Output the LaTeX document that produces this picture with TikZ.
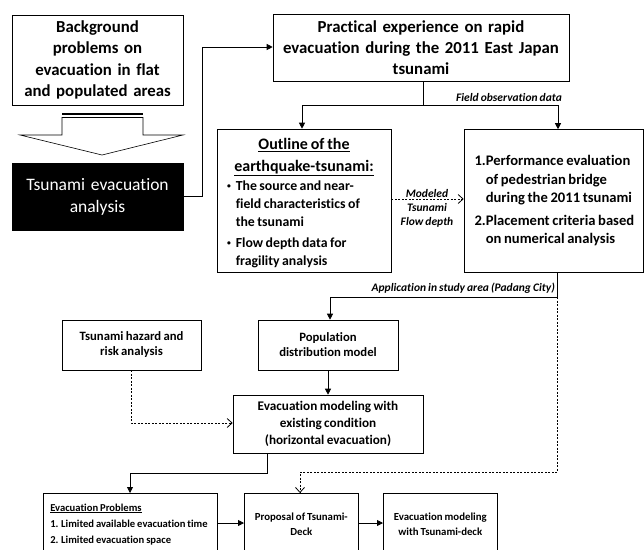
\documentclass[tikz,border=0pt]{standalone}
\usepackage{fontspec}
\setmainfont[Ligatures={NoCommon}, WordSpace=0.8]{Carlito}
\usetikzlibrary{arrows.meta}
\newcommand{\fsz}[2]{\fontsize{#1}{#2}\selectfont}
\newcommand{\smallbul}{\raisebox{1.5pt}{\scalebox{0.55}{\textbullet}}}
\begin{document}
\begin{tikzpicture}[x=1pt,y=-1pt,
  box/.style={draw, line width=0.6pt, inner sep=0pt, align=center, font=\bfseries},
  conn/.style={line width=0.8pt, -{Triangle[length=6pt,width=6pt]}},
  dconn/.style={line width=0.8pt, dashed, dash pattern=on 2pt off 1.5pt, -{Straight Barb[length=5pt,width=9pt]}},
  lbl/.style={font=\bfseries\itshape\fsz{11.5}{13}, inner sep=1pt}]
\clip (0,0) rectangle (644,549);
\fill[white] (0,0) rectangle (644,549);
% boxes
\node[box, minimum width=171pt, minimum height=90pt, text width=165pt, font=\bfseries\fsz{16.8}{21.5}] (bg) at (97.5,60) {Background\\problems on\\evacuation in flat\\and populated areas};
\node[box, fill=black, text=white, minimum width=171pt, minimum height=67pt, text width=165pt, font=\fsz{17.5}{22}] (tea) at (97.5,196.5) {Tsunami evacuation\\analysis};
\node[box, minimum width=296pt, minimum height=67pt, text width=290pt, font=\bfseries\fsz{16.8}{21}] (prac) at (421,47.5) {Practical experience on rapid\\evacuation during the 2011 East Japan\\tsunami};
\node[box, minimum width=174pt, minimum height=143pt] (outl) at (304,200.5) {\begin{minipage}{166pt}\vspace*{8pt}\centering\bfseries
{\fsz{16}{21.5}\underline{Outline of the}\\\underline{earthquake-tsunami:}\par}\vspace{1pt}
\raggedright\fsz{13.8}{18}\hspace*{6pt}\begin{tabular}{@{}l@{\hspace{5pt}}l@{}}
\smallbul & The source and near-\\
 & field characteristics of\\
 & the tsunami\\[3pt]
\smallbul & Flow depth data for\\
 & fragility analysis
\end{tabular}\end{minipage}};
\node[box, minimum width=179pt, minimum height=143pt] (perf) at (553.5,201) {\begin{minipage}{158pt}\raggedright\bfseries\fsz{14.6}{18.5}
\begin{tabular}{@{}l@{}l@{}}
1. & Performance evaluation\\
 & of pedestrian bridge\\
 & during the 2011 tsunami\\[4pt]
2. & Placement criteria based\\
 & on numerical analysis
\end{tabular}\end{minipage}};
\node[box, minimum width=139pt, minimum height=50pt, font=\bfseries\fsz{12.7}{15}] (haz) at (131.5,345) {Tsunami hazard and\\risk analysis};
\node[box, minimum width=140pt, minimum height=50pt, font=\bfseries\fsz{12.7}{15}] (pop) at (328,345) {Population\\distribution model};
\node[box, minimum width=190pt, minimum height=58pt, font=\bfseries\fsz{13.2}{16.8}] (evm) at (328,424) {Evacuation modeling with\\existing condition\\(horizontal evacuation)};
\node[box, minimum width=174pt, minimum height=62pt, anchor=north west] (prob) at (43,493) {\begin{minipage}{160pt}\raggedright\bfseries\fsz{10.6}{16}
\mbox{\underline{Evacuation Problems}}\\
\mbox{1. Limited available evacuation time}\\
\mbox{2. Limited evacuation space}
\end{minipage}};
\node[box, minimum width=114pt, minimum height=62pt, anchor=north west, font=\bfseries\fsz{10.8}{15.5}] (prop) at (244,493) {Proposal of Tsunami-\\Deck};
\node[box, minimum width=114pt, minimum height=62pt, anchor=north west, font=\bfseries\fsz{10.8}{15.5}] (evd) at (383,493) {Evacuation modeling\\with Tsunami-deck};
% hollow arrow
\draw[line width=0.6pt] (62,117) -- (62,135) -- (20,135) -- (102,155) -- (183,135) -- (143,135) -- (143,117);
\draw[line width=2pt] (62,114) -- (143,114);
\draw[line width=0.8pt] (62,117.5) -- (143,117.5);
% connectors
\coordinate (c1) at (202,196.5);
\coordinate (c2) at (202,47);
\draw[conn] (tea.east) -- (c1) -- (c2) -- (prac.west |- c2);
\coordinate (split) at (423,105);
\draw[line width=0.8pt] (prac.south -| split) -- (split);
\draw[conn] (split) -- (302,105) -- (outl.north -| 302,0);
\draw[conn] (split) -- (558,105) -- (perf.north -| 558,0);
\node[lbl, anchor=south east] (fod) at (563,103) {Field observation data};
\draw[dconn] (outl.east |- 0,199) -- (perf.west |- 0,199);
\node[lbl, anchor=center, align=center, font=\bfseries\itshape\fsz{11.5}{14}] (mtf) at (427,208) {Modeled\\Tsunami\\Flow depth};
\coordinate (a1) at (557,297);
\draw[conn] (perf.south -| a1) -- (a1) -- (330,297) -- (pop.north -| 330,0);
\node[lbl, anchor=south east] (app) at (556,295) {Application in study area (Padang City)};
\draw[conn] (pop.south) -- (evm.north);
\draw[dconn] (haz.south -| 131,0) -- (131,423) -- (evm.west |- 0,423);
\draw[conn] (evm.south -| 267,0) -- (267,473) -- (130,473) -- (prob.north -| 130,0);
\draw[dconn] (a1) -- (557,472) -- (300,472) -- (prop.north -| 300,0);
\draw[conn] (prob.east |- 0,523) -- (prop.west |- 0,523);
\draw[conn] (prop.east |- 0,523) -- (evd.west |- 0,523);
\end{tikzpicture}
\end{document}
